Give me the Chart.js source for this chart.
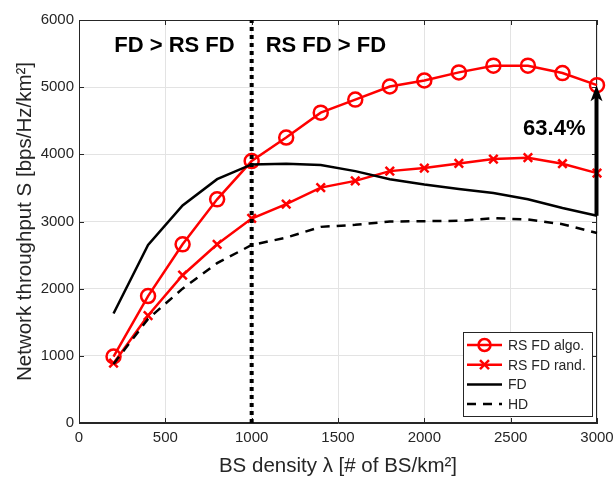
<!DOCTYPE html>
<html>
<head>
<meta charset="utf-8">
<script src="https://cdn.jsdelivr.net/npm/chart.js@4/dist/chart.umd.min.js"></script>
<style>
  html, body { margin: 0; padding: 0; background: #fff; }
  #wrap { width: 616px; height: 483px; }
</style>
</head>
<body>
<div id="wrap"><canvas id="c" width="616" height="483"></canvas></div>
<script>
// BS density (x) and throughput values
var density = [200, 400, 600, 800, 1000, 1200, 1400, 1600, 1800, 2000, 2200, 2400, 2600, 2800, 3000];
var rsFdAlgo = [990, 1890, 2660, 3330, 3900, 4250, 4620, 4815, 5010, 5100, 5220, 5320, 5320, 5210, 5030];
var rsFdRand = [890, 1600, 2200, 2660, 3045, 3260, 3505, 3605, 3750, 3795, 3865, 3930, 3950, 3860, 3720];
var fd = [1630, 2650, 3240, 3630, 3850, 3860, 3840, 3750, 3630, 3550, 3485, 3425, 3330, 3200, 3085];
var hd = [880, 1550, 2000, 2380, 2650, 2760, 2920, 2950, 3000, 3005, 3010, 3050, 3030, 2960, 2830];
var xTicks = [0, 500, 1000, 1500, 2000, 2500, 3000];
var yTicks = [0, 1000, 2000, 3000, 4000, 5000, 6000];
var boundary = 1000;
var gainLabel = '63.4%';

var FONT = '"Liberation Sans", Arial, Helvetica, sans-serif';
var TXT = '#262626';

function pts(ys) {
	return ys.map(function(v, i) { return {x: density[i], y: v}; });
}

// Annotations: region labels, gain arrow, MATLAB style box and legend
var extras = {
	id: 'extras',
	beforeDatasetsDraw: function(chart) {
		var ctx = chart.ctx;
		var xs = chart.scales.x, ys = chart.scales.y;
		var a = chart.chartArea;
		ctx.save();
		// inward tick marks on all four sides
		ctx.strokeStyle = TXT;
		ctx.lineWidth = 1;
		ctx.beginPath();
		xTicks.forEach(function(v) {
			var px = Math.round(xs.getPixelForValue(v)) + 0.5;
			ctx.moveTo(px, a.bottom); ctx.lineTo(px, a.bottom - 5);
			ctx.moveTo(px, a.top); ctx.lineTo(px, a.top + 5);
		});
		yTicks.forEach(function(v) {
			var py = Math.round(ys.getPixelForValue(v)) + 0.5;
			ctx.moveTo(a.left, py); ctx.lineTo(a.left + 5, py);
			ctx.moveTo(a.right, py); ctx.lineTo(a.right - 5, py);
		});
		ctx.stroke();
		ctx.strokeRect(a.left + 0.5, a.top + 0.5, a.right - a.left - 1, a.bottom - a.top - 1);
		ctx.restore();
	},
	afterDatasetsDraw: function(chart) {
		var ctx = chart.ctx;
		var xs = chart.scales.x, ys = chart.scales.y;
		ctx.save();

		// region labels
		ctx.fillStyle = '#000';
		ctx.font = 'bold 22px ' + FONT;
		ctx.textBaseline = 'middle';
		ctx.textAlign = 'right';
		ctx.fillText('FD > RS FD', xs.getPixelForValue(boundary) - 17, ys.getPixelForValue(5620));
		ctx.textAlign = 'left';
		ctx.fillText('RS FD > FD', xs.getPixelForValue(boundary) + 14, ys.getPixelForValue(5620));

		// gain arrow at the last density
		var last = density.length - 1;
		var ax = xs.getPixelForValue(density[last]) - 0.5;
		var y0 = ys.getPixelForValue(fd[last]);
		var y1 = ys.getPixelForValue(rsFdAlgo[last]);
		ctx.strokeStyle = '#000';
		ctx.lineWidth = 4;
		ctx.beginPath();
		ctx.moveTo(ax, y0);
		ctx.lineTo(ax, y1 + 10);
		ctx.stroke();
		ctx.beginPath();
		ctx.moveTo(ax, y1);
		ctx.lineTo(ax + 6, y1 + 16);
		ctx.lineTo(ax, y1 + 12);
		ctx.lineTo(ax - 6, y1 + 16);
		ctx.closePath();
		ctx.fillStyle = '#000';
		ctx.fill();
		ctx.textAlign = 'right';
		ctx.font = 'bold 22px ' + FONT;
		ctx.fillText(gainLabel, ax - 11, ys.getPixelForValue(4385));

		// legend
		var lx = 463, ly = 332, lw = 129, lh = 84;
		ctx.fillStyle = '#fff';
		ctx.fillRect(lx, ly, lw, lh);
		ctx.strokeStyle = TXT;
		ctx.lineWidth = 1;
		ctx.strokeRect(lx + 0.5, ly + 0.5, lw, lh);
		var items = [
			{label: 'RS FD algo.', color: '#ff0000', dash: [], marker: 'circle'},
			{label: 'RS FD rand.', color: '#ff0000', dash: [], marker: 'cross'},
			{label: 'FD', color: '#000', dash: [], marker: null},
			{label: 'HD', color: '#000', dash: [9, 7], marker: null}
		];
		ctx.font = '14px ' + FONT;
		items.forEach(function(it, i) {
			var yy = ly + 13 + i * 19.7;
			ctx.strokeStyle = it.color;
			ctx.lineWidth = 2.5;
			ctx.setLineDash(it.dash);
			ctx.beginPath();
			ctx.moveTo(lx + 4, yy);
			ctx.lineTo(lx + 39, yy);
			ctx.stroke();
			ctx.setLineDash([]);
			var mx = lx + 21.5;
			if (it.marker === 'circle') {
				ctx.beginPath();
				ctx.arc(mx, yy, 6, 0, Math.PI * 2);
				ctx.stroke();
			} else if (it.marker === 'cross') {
				ctx.beginPath();
				ctx.moveTo(mx - 4.5, yy - 4.5); ctx.lineTo(mx + 4.5, yy + 4.5);
				ctx.moveTo(mx - 4.5, yy + 4.5); ctx.lineTo(mx + 4.5, yy - 4.5);
				ctx.stroke();
			}
			ctx.fillStyle = TXT;
			ctx.textAlign = 'left';
			ctx.fillText(it.label, lx + 45, yy + 1);
		});
		ctx.restore();
	}
};

Chart.defaults.font.family = FONT;
Chart.defaults.color = TXT;

var chart = new Chart(document.getElementById('c').getContext('2d'), {
	type: 'line',
	data: {
		datasets: [
			{
				// region boundary
				data: [{x: boundary, y: 0}, {x: boundary, y: 6000}],
				borderColor: '#000',
				borderWidth: 4,
				borderDash: [4, 4],
				borderCapStyle: 'butt',
				pointRadius: 0
			},
			{
				label: 'HD',
				data: pts(hd),
				borderColor: '#000',
				borderWidth: 2.5,
				borderDash: [9, 7],
				pointRadius: 0
			},
			{
				label: 'FD',
				data: pts(fd),
				borderColor: '#000',
				borderWidth: 2.5,
				pointRadius: 0
			},
			{
				label: 'RS FD rand.',
				data: pts(rsFdRand),
				borderColor: '#ff0000',
				borderWidth: 2.5,
				pointStyle: 'crossRot',
				pointRadius: 6,
				pointBorderWidth: 2.5,
				pointBorderColor: '#ff0000'
			},
			{
				label: 'RS FD algo.',
				data: pts(rsFdAlgo),
				borderColor: '#ff0000',
				borderWidth: 2.5,
				pointStyle: 'circle',
				pointRadius: 7,
				pointBorderWidth: 2.5,
				pointBackgroundColor: 'rgba(255,255,255,0)',
				pointBorderColor: '#ff0000'
			}
		]
	},
	options: {
		responsive: false,
		animation: false,
		clip: false,
		layout: {padding: {top: 20, right: 19, left: 0, bottom: 0}},
		plugins: {
			legend: {display: false},
			tooltip: {enabled: false}
		},
		scales: {
			x: {
				type: 'linear',
				min: 0,
				max: 3000,
				afterBuildTicks: function(s) { s.ticks = xTicks.map(function(v) { return {value: v}; }); },
				afterFit: function(s) { s.height = 60; s.paddingLeft = 0; s.paddingRight = 0; },
				grid: {color: '#e3e3e3', tickLength: 0, drawTicks: false},
				border: {color: TXT},
				ticks: {font: {size: 15}, padding: 6, maxRotation: 0, color: TXT, callback: function(v) { return String(v); }},
				title: {display: true, text: 'BS density λ [# of BS/km²]', font: {size: 20.5}, padding: {top: 2}, color: TXT}
			},
			y: {
				min: 0,
				max: 6000,
				afterBuildTicks: function(s) { s.ticks = yTicks.map(function(v) { return {value: v}; }); },
				afterFit: function(s) { s.width = 79; s.paddingTop = 0; s.paddingBottom = 0; },
				grid: {color: '#e3e3e3', tickLength: 0, drawTicks: false},
				border: {color: TXT},
				ticks: {font: {size: 15}, padding: 5, color: TXT, callback: function(v) { return String(v); }},
				title: {display: true, text: 'Network throughput S [bps/Hz/km²]', font: {size: 20.5}, padding: {top: 13, bottom: 0}, color: TXT}
			}
		}
	},
	plugins: [extras]
});
</script>
</body>
</html>
